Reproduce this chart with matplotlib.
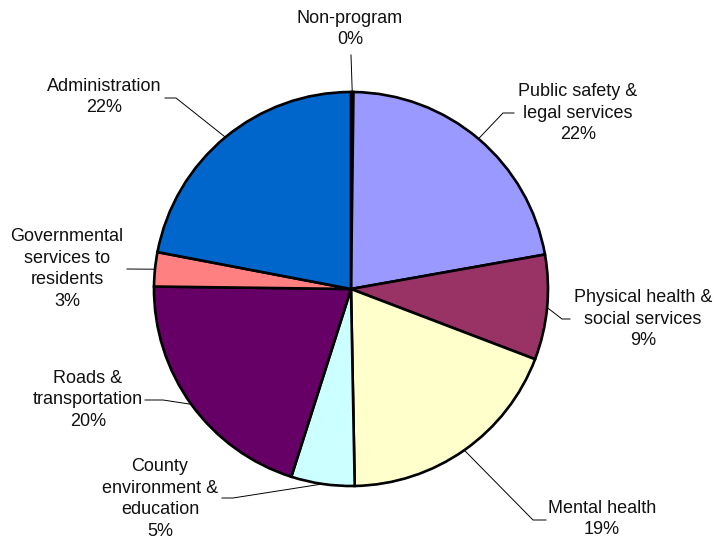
import matplotlib.pyplot as plt
import numpy as np

plt.rcParams['font.family'] = ['Liberation Sans', 'DejaVu Sans']

# data (share of budget, %), clockwise from 12 o'clock
labels = ['Non-program', 'Public safety &\nlegal services', 'Physical health &\nsocial services',
          'Mental health', 'County\nenvironment &\neducation', 'Roads &\ntransportation',
          'Governmental\nservices to\nresidents', 'Administration']
values = [0.2, 22.0, 8.6, 18.9, 5.2, 20.3, 2.8, 22.0]
colors = ['#000000', '#9999FF', '#993366', '#FFFFCC', '#CCFFFF', '#660066', '#FF8080', '#0066CC']

# label layout in pixel coords: text centre, elbow, end of horizontal segment
text_pos = [(350, 29), (578, 113), (643, 319), (602, 519), (160, 499), (88, 400), (67, 269), (104, 97)]
elbow = [(351, 55), (503, 113), (562, 319), (533, 520), (233, 498), (163, 400), (127, 269), (176, 98)]
hend = [(351, 55), (514, 113), (570, 319), (546, 520), (222, 498), (145, 400), (127, 269), (165, 98)]

W, H = 714, 544
cx, cy, R = 351, 289, 197

fig = plt.figure(figsize=(W / 100, H / 100), dpi=100)
ax = fig.add_axes([0, 0, 1, 1])

def py(y):
    return H - y

wedges, _ = ax.pie(values, colors=colors, startangle=90, counterclock=False,
                   center=(cx, py(cy)), radius=R, frame=True,
                   wedgeprops=dict(edgecolor='black', linewidth=1.9))
ax.set_xlim(0, W)
ax.set_ylim(0, H)
ax.set_aspect('equal')
ax.axis('off')

total = sum(values)
for i, w in enumerate(wedges):
    mid = np.deg2rad((w.theta1 + w.theta2) / 2)
    x0 = cx + R * np.cos(mid)
    y0 = py(cy) + R * np.sin(mid)
    ex, ey = elbow[i]
    hx, hy = hend[i]
    ax.plot([x0, ex, hx], [y0, py(ey), py(hy)], color='black', lw=0.7, zorder=0.5)
    pct = round(values[i] / total * 100)
    tx, ty = text_pos[i]
    ax.text(tx, py(ty), f'{labels[i]}\n{pct}%', ha='center', va='center',
            fontsize=13, color='#111111', linespacing=1.35)

fig.savefig('out.png', dpi=100)
